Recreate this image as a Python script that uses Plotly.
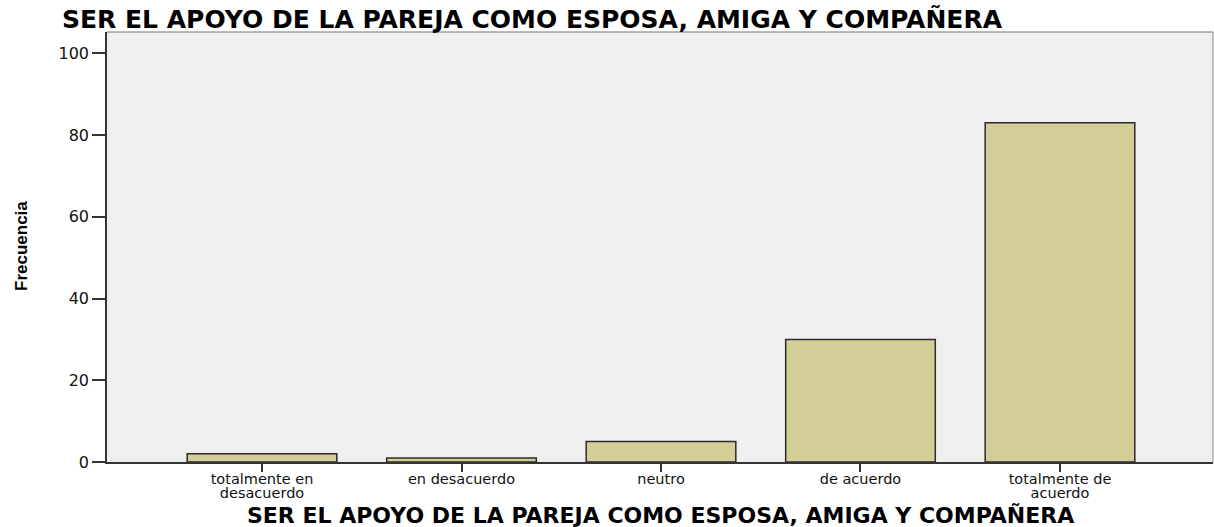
import plotly.graph_objects as go

categories = ["totalmente en<br>desacuerdo", "en desacuerdo", "neutro", "de acuerdo", "totalmente de<br>acuerdo"]
frecuencia = [2, 1, 5, 30, 83]
y_ticks = [0, 20, 40, 60, 80, 100]
title_text = "SER EL APOYO DE LA PAREJA COMO ESPOSA, AMIGA Y COMPAÑERA"
y_title = "Frecuencia"

W, H = 1214, 527
L, R, T, B = 107, 1, 32, 65
PW, PH = W - L - R, H - T - B

# tick labels: base font sets the line pitch, inner span sets glyph size
tick_text = ["<br>".join('<span style="font-size:14.5px">%s</span>' % p for p in c.split("<br>"))
             for c in categories]

fig = go.Figure()
fig.add_trace(go.Bar(
    x=list(range(len(categories))),
    y=frecuencia,
    width=0.75,
    marker=dict(color="#d3cd97", line=dict(color="#2b2b2b", width=1.5)),
    hoverinfo="y",
))

fig.update_layout(
    width=W, height=H,
    margin=dict(l=L, r=R, t=T, b=B, autoexpand=False),
    paper_bgcolor="white",
    plot_bgcolor="#efefef",
    showlegend=False,
    font=dict(family="DejaVu Sans", color="#111"),
    xaxis=dict(
        range=[-0.777, 4.767],
        tickmode="array",
        tickvals=list(range(len(categories))),
        ticktext=tick_text,
        ticks="outside", ticklen=8, tickwidth=1.5, tickcolor="#333",
        showline=True, linecolor="#333", linewidth=1.5,
        showgrid=False, zeroline=False,
        tickfont=dict(family="DejaVu Sans", size=10.5, color="#111"),
        automargin=False,
        fixedrange=True,
    ),
    yaxis=dict(
        range=[0, 105.2],
        tickmode="array",
        tickvals=y_ticks,
        ticks="outside", ticklen=13, tickwidth=1.5, tickcolor="#333",
        showline=True, linecolor="#333", linewidth=1.5,
        showgrid=False, zeroline=False,
        tickfont=dict(family="DejaVu Sans", size=16, color="#111"),
        automargin=False,
        fixedrange=True,
    ),
    shapes=[
        dict(type="line", xref="paper", yref="paper", x0=0, x1=1, y0=1, y1=1,
             line=dict(color="#777", width=1.2)),
        dict(type="line", xref="paper", yref="paper", x0=1, x1=1, y0=0, y1=1,
             line=dict(color="#999", width=1.2)),
    ],
    annotations=[
        dict(text=title_text, xref="paper", yref="paper",
             x=(60 - L) / PW, y=1 + (T - 19.5) / PH, xanchor="left", yanchor="middle",
             showarrow=False,
             font=dict(family="DejaVu Sans", size=25, weight="bold", color="#000")),
        dict(text=title_text, xref="paper", yref="paper",
             x=0.5, y=(462 - 515) / PH, xanchor="center", yanchor="middle",
             showarrow=False,
             font=dict(family="DejaVu Sans", size=22, weight="bold", color="#000")),
        dict(text=y_title, xref="paper", yref="paper",
             x=(22 - L) / PW, y=(462 - 246) / PH,
             xanchor="center", yanchor="middle", textangle=-90,
             showarrow=False,
             font=dict(family="Liberation Sans", size=17, weight="bold", color="#000")),
    ],
)

fig.write_html("out.html", post_script="document.body.style.margin='0';",
               config={"displayModeBar": False})
